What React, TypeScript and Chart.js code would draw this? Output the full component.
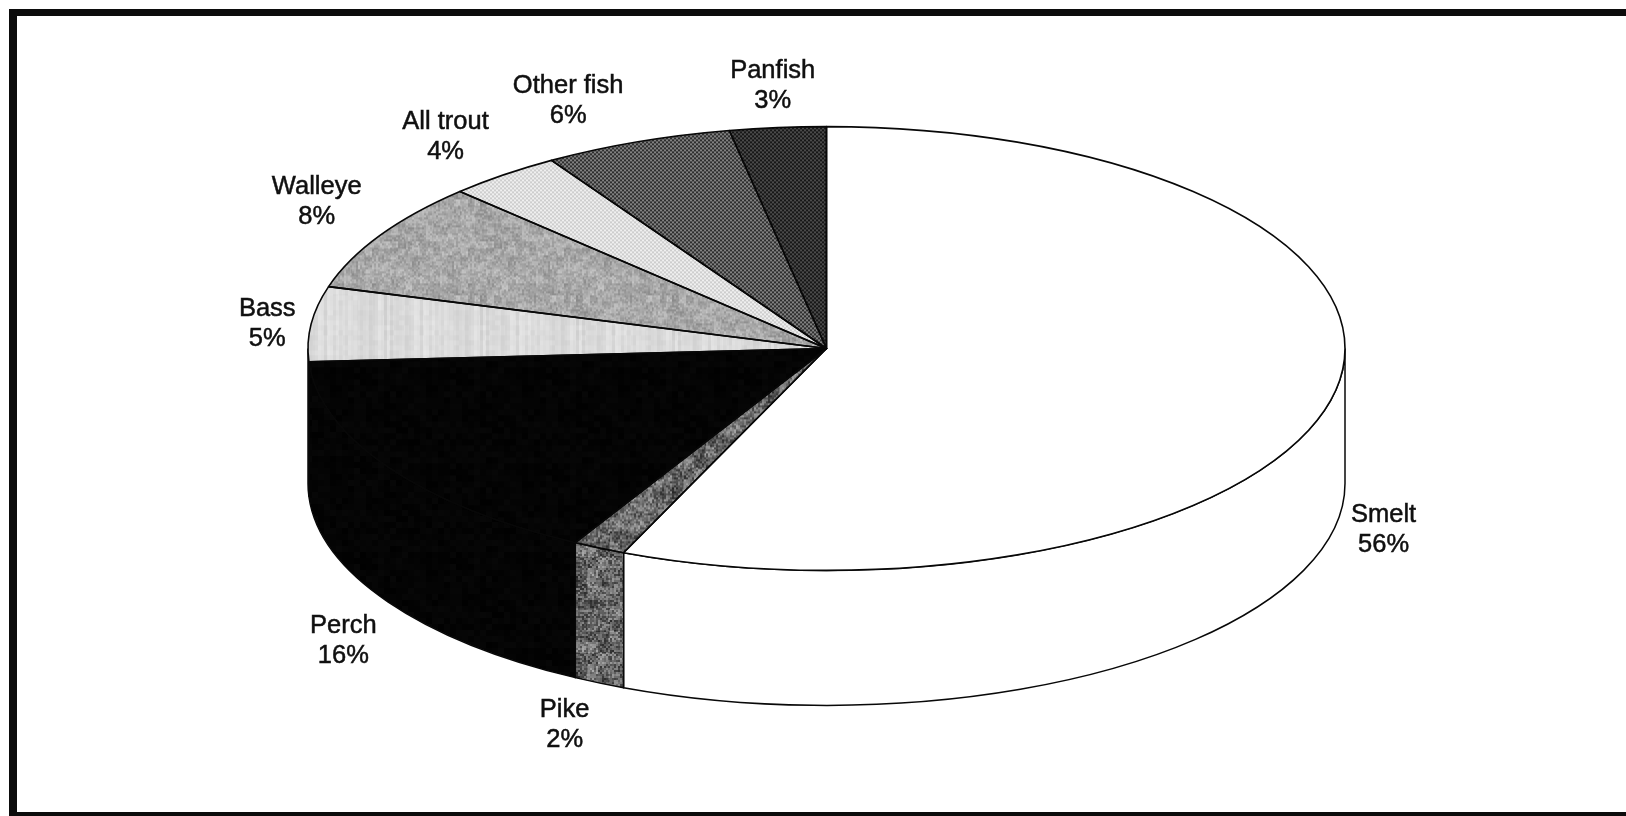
import React, { useEffect, useRef } from "react";
import { Chart, registerables } from "chart.js";

Chart.register(...registerables);

const categories = ["Smelt", "Pike", "Perch", "Bass", "Walleye", "All trout", "Other fish", "Panfish"];
const shares = [56.4, 1.65, 16, 5.45, 8, 3.6, 5.9, 3];

// Pie look
const PIE_RADIUS = 518.5;
const TILT = 0.428;
const WALL = 135;
const CENTER = { x: 826.5, y: 348.5 };
// label centre relative to the rim point at the slice's mid angle
const labelGaps = [[49, 2], [-34.5, 42], [-44.5, 39], [-44, 0], [-63.5, -34], [-58, -38], [-69, -41], [-5, -42]];

const hash = (x: number, y: number) => {
  const v = Math.sin(x * 12.9898 + y * 78.233) * 43758.5453;
  return v - Math.floor(v);
};
const clamp = (v: number) => Math.max(0, Math.min(255, Math.round(v)));

type Shade = (x: number, y: number) => number;
const tile = (shade: Shade) => {
  const size = 96;
  const c = document.createElement("canvas");
  c.width = size;
  c.height = size;
  const g = c.getContext("2d")!;
  for (let y = 0; y < size; y++)
    for (let x = 0; x < size; x++) {
      const s = clamp(shade(x, y));
      g.fillStyle = `rgb(${s},${s},${s})`;
      g.fillRect(x, y, 1, 1);
    }
  return c;
};
const blotch = (x: number, y: number, cell: number) => hash(Math.floor(x / cell), Math.floor(y / cell)) - 0.5;
const dots = (dark: number, light: number) => (x: number, y: number) =>
  (x % 4 < 2) === (y % 4 < 2) ? dark : light;

const shades: (Shade | null)[] = [
  null,
  (x, y) => 105 + 90 * blotch(x, y, 2) + 45 * blotch(x, y, 11),
  (x, y) => 4 + 6 * blotch(x, y, 6),
  (x, y) => 218 + 16 * blotch(x, 0, 3) + 8 * blotch(x, y, 5),
  (x, y) => 168 + 38 * blotch(x, y, 2) + 24 * blotch(x, y, 7),
  dots(205, 240),
  dots(45, 130),
  dots(22, 75),
];

export default function App() {
  const ref = useRef<HTMLCanvasElement>(null);
  useEffect(() => {
    document.body.style.margin = "0";
    document.body.style.background = "#fff";
    const canvas = ref.current!;
    const ctx = canvas.getContext("2d")!;

    // separate fills: the wall is drawn flat, the top face under the tilt transform
    const wallFills = shades.map((s) => (s ? ctx.createPattern(tile(s), "repeat")! : "#ffffff"));
    const topFills = shades.map((s) => {
      if (!s) return "#ffffff";
      const p = ctx.createPattern(tile(s), "repeat")!;
      p.setTransform(new DOMMatrix().scale(1, 1 / TILT));
      return p;
    });

    const frame = {
      id: "frame",
      beforeDraw(chart: any) {
        const c = chart.ctx;
        c.save();
        c.fillStyle = "#ffffff";
        c.fillRect(0, 0, chart.width, chart.height);
        c.fillStyle = "#0c0c0c";
        c.fillRect(9, 9, chart.width - 9, 7);
        c.fillRect(9, 9, 8, chart.height - 9);
        c.fillRect(9, 812, chart.width - 9, 4);
        c.restore();
      },
    };

    const pie3d = {
      id: "pie3d",
      beforeDatasetsDraw(chart: any) {
        const c = chart.ctx;
        const arcs = chart.getDatasetMeta(0).data;
        c.save();
        arcs.forEach((arc: any, i: number) => {
          const a0 = Math.max(arc.startAngle, 0);
          const a1 = Math.min(arc.endAngle, Math.PI);
          if (a1 <= a0) return;
          const a = arc.outerRadius;
          const b = a * TILT;
          c.beginPath();
          c.ellipse(arc.x, arc.y, a, b, 0, a0, a1);
          c.ellipse(arc.x, arc.y + WALL, a, b, 0, a1, a0, true);
          c.closePath();
          c.fillStyle = wallFills[i];
          c.fill();
          c.strokeStyle = "#080808";
          c.lineWidth = 1.5;
          c.stroke();
        });
        c.restore();
      },
      beforeDatasetDraw(chart: any) {
        const arc = chart.getDatasetMeta(0).data[0];
        const c = chart.ctx;
        c.save();
        c.translate(arc.x, arc.y);
        c.scale(1, TILT);
        c.translate(-arc.x, -arc.y);
      },
      afterDatasetDraw(chart: any) {
        chart.ctx.restore();
      },
      afterDatasetsDraw(chart: any) {
        const c = chart.ctx;
        const arcs = chart.getDatasetMeta(0).data;
        c.save();
        c.strokeStyle = "#080808";
        c.lineWidth = 1.6;
        c.lineJoin = "round";
        arcs.forEach((arc: any) => {
          const a = arc.outerRadius;
          const b = a * TILT;
          c.beginPath();
          c.moveTo(arc.x, arc.y);
          c.ellipse(arc.x, arc.y, a, b, 0, arc.startAngle, arc.endAngle);
          c.closePath();
          c.stroke();
        });
        c.restore();
      },
      afterDraw(chart: any) {
        const c = chart.ctx;
        const arcs = chart.getDatasetMeta(0).data;
        c.save();
        c.font = '25.5px "Liberation Sans", Arial, sans-serif';
        c.fillStyle = "#101010";
        c.strokeStyle = "#101010";
        c.lineWidth = 0.5;
        c.textAlign = "center";
        c.textBaseline = "middle";
        arcs.forEach((arc: any, i: number) => {
          const mid = (arc.startAngle + arc.endAngle) / 2;
          const a = arc.outerRadius;
          const rimX = arc.x + a * Math.cos(mid);
          const front = Math.sin(mid) > 0;
          const rimY = arc.y + a * TILT * Math.sin(mid) + (front ? WALL : 0);
          const [dx, dy] = labelGaps[i];
          const lines = [categories[i], `${Math.round(shares[i])}%`];
          lines.forEach((t, n) => {
            const y = rimY + dy + (n === 0 ? -15 : 15);
            c.fillText(t, rimX + dx, y);
            c.strokeText(t, rimX + dx, y);
          });
        });
        c.restore();
      },
    };

    const chart = new Chart(canvas, {
      type: "pie",
      data: {
        labels: categories,
        datasets: [
          {
            data: shares,
            backgroundColor: topFills as any,
            hoverBackgroundColor: topFills as any,
            borderWidth: 0,
            clip: false as any,
          },
        ],
      },
      options: {
        animation: false,
        responsive: false,
        radius: PIE_RADIUS,
        events: [],
        layout: {
          padding: {
            left: 2 * CENTER.x - 1626,
            bottom: 816 - 2 * CENTER.y,
            top: 0,
            right: 0,
          },
        },
        plugins: { legend: { display: false }, tooltip: { enabled: false } },
      } as any,
      plugins: [frame, pie3d],
    });
    return () => chart.destroy();
  }, []);
  return (
    <div style={{ position: "absolute", left: 0, top: 0, width: 1626, height: 816, overflow: "hidden" }}>
      <canvas ref={ref} width={1626} height={816} style={{ display: "block", filter: "blur(0.5px)" }} />
    </div>
  );
}
